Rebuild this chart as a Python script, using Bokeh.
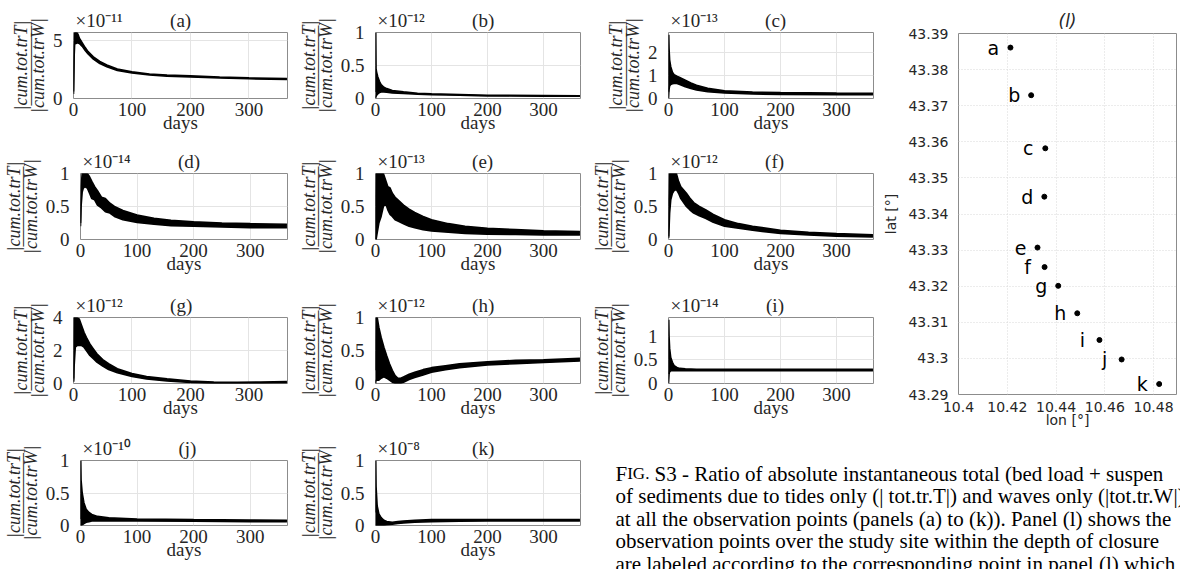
import numpy as np
from bokeh.plotting import figure
from bokeh.models import FixedTicker, Range1d
from bokeh.layouts import row, column
from bokeh.core.properties import value
from bokeh.embed import file_html
from bokeh.resources import INLINE

# ---------------- data ----------------
XMAX = 366
day_ticks = [0, 100, 200, 300]

a_days = [0, 1, 2, 4, 6, 8, 10, 15, 20, 25, 34, 45, 57, 75, 100, 130, 160, 200, 250, 300, 365]
a_upper = [0.6, 4.5, 5.7, 5.75, 5.7, 5.5, 5.2, 4.8, 4.4, 4.05, 3.6, 3.2, 2.9, 2.55, 2.3, 2.12, 2.02, 1.95, 1.85, 1.78, 1.72]
a_lower = [0.4, 3.5, 4.7, 4.75, 4.8, 4.8, 4.75, 4.5, 4.15, 3.85, 3.4, 3.02, 2.75, 2.42, 2.2, 2.03, 1.93, 1.86, 1.77, 1.7, 1.64]

b_days = [0, 0.5, 1, 2, 4, 7, 10, 15, 20, 30, 50, 75, 100, 150, 200, 300, 365]
b_upper = [0.1, 1.0, 0.45, 0.4, 0.33, 0.26, 0.21, 0.17, 0.15, 0.12, 0.1, 0.08, 0.07, 0.06, 0.05, 0.045, 0.04]
b_lower = [0.0, 0.02, 0.03, 0.05, 0.07, 0.09, 0.1, 0.1, 0.095, 0.085, 0.075, 0.065, 0.058, 0.05, 0.04, 0.035, 0.033]

c_days = [0, 0.5, 1, 2, 4, 7, 10, 15, 20, 30, 40, 50, 70, 100, 150, 200, 300, 365]
c_upper = [0.3, 2.8, 2.2, 1.7, 1.4, 1.15, 1.05, 0.98, 0.92, 0.8, 0.68, 0.58, 0.45, 0.34, 0.28, 0.26, 0.24, 0.23]
c_lower = [0.0, 0.25, 0.4, 0.55, 0.62, 0.65, 0.66, 0.66, 0.62, 0.52, 0.44, 0.38, 0.3, 0.24, 0.2, 0.18, 0.17, 0.17]

d_days = [0, 1, 3, 5, 8, 12, 16, 20, 25, 30, 37, 44, 52, 60, 75, 100, 130, 160, 200, 250, 300, 365]
d_upper = [0.25, 0.8, 1.0, 1.0, 1.0, 1.0, 0.95, 0.88, 0.8, 0.74, 0.64, 0.62, 0.55, 0.5, 0.44, 0.37, 0.32, 0.29, 0.27, 0.25, 0.24, 0.23]
d_lower = [0.2, 0.5, 0.72, 0.78, 0.8, 0.78, 0.7, 0.62, 0.6, 0.52, 0.48, 0.42, 0.4, 0.35, 0.3, 0.26, 0.23, 0.21, 0.2, 0.19, 0.18, 0.18]

e_days = [0, 0.5, 1, 3, 6, 10, 14, 18, 22, 26, 30, 35, 40, 50, 60, 70, 85, 100, 130, 160, 200, 250, 300, 365]
e_upper = [0.0, 0.6, 1.0, 1.0, 1.0, 1.0, 1.0, 0.9, 0.8, 0.78, 0.7, 0.64, 0.6, 0.52, 0.46, 0.41, 0.35, 0.3, 0.24, 0.2, 0.17, 0.15, 0.13, 0.12]
e_lower = [0.0, 0.0, 0.0, 0.1, 0.25, 0.35, 0.5, 0.55, 0.45, 0.38, 0.35, 0.3, 0.28, 0.24, 0.2, 0.18, 0.15, 0.13, 0.11, 0.09, 0.08, 0.075, 0.07, 0.07]

f_days = [0, 0.5, 2, 4, 7, 10, 14, 18, 22, 27, 32, 38, 45, 55, 66, 80, 100, 125, 150, 200, 250, 300, 365]
f_upper = [0.05, 0.6, 1.0, 1.0, 1.0, 1.0, 1.0, 0.88, 0.8, 0.75, 0.7, 0.63, 0.56, 0.5, 0.45, 0.38, 0.3, 0.24, 0.2, 0.14, 0.11, 0.09, 0.07]
f_lower = [0.02, 0.05, 0.4, 0.6, 0.7, 0.74, 0.76, 0.7, 0.62, 0.56, 0.5, 0.45, 0.4, 0.36, 0.32, 0.26, 0.2, 0.17, 0.14, 0.09, 0.07, 0.05, 0.04]

g_days = [0, 0.5, 1, 3, 6, 10, 14, 18, 22, 28, 34, 40, 50, 60, 75, 100, 125, 160, 200, 240, 280, 320, 365]
g_upper = [0.3, 2.5, 4.0, 4.0, 4.0, 3.9, 3.5, 3.1, 2.8, 2.4, 2.1, 1.8, 1.45, 1.2, 0.9, 0.6, 0.42, 0.28, 0.15, 0.09, 0.08, 0.09, 0.12]
g_lower = [0.1, 0.2, 1.0, 2.2, 2.3, 2.3, 2.3, 2.2, 2.0, 1.7, 1.5, 1.3, 1.05, 0.85, 0.65, 0.42, 0.28, 0.15, 0.06, 0.0, 0.0, 0.02, 0.04]

h_days = [0, 1, 3, 6, 10, 15, 20, 25, 30, 35, 40, 45, 50, 60, 70, 85, 100, 125, 150, 200, 250, 300, 365]
h_upper = [0.2, 1.0, 1.0, 0.85, 0.7, 0.55, 0.42, 0.3, 0.2, 0.12, 0.08, 0.08, 0.1, 0.14, 0.17, 0.21, 0.24, 0.27, 0.3, 0.33, 0.35, 0.36, 0.38]
h_lower = [0.0, 0.05, 0.05, 0.05, 0.08, 0.1, 0.08, 0.05, 0.02, 0.0, 0.0, 0.0, 0.02, 0.06, 0.09, 0.13, 0.17, 0.21, 0.24, 0.28, 0.3, 0.32, 0.34]

i_days = [0, 0.5, 1, 2, 4, 7, 10, 15, 20, 30, 50, 100, 200, 300, 365]
i_upper = [0.2, 1.35, 1.0, 0.75, 0.55, 0.45, 0.38, 0.34, 0.32, 0.31, 0.3, 0.3, 0.3, 0.3, 0.3]
i_lower = [0.0, 0.1, 0.2, 0.25, 0.27, 0.27, 0.27, 0.27, 0.27, 0.27, 0.27, 0.27, 0.27, 0.27, 0.27]

j_days = [0, 0.5, 1, 3, 6, 10, 15, 20, 30, 50, 100, 200, 300, 365]
j_upper = [0.1, 1.0, 0.7, 0.5, 0.35, 0.25, 0.2, 0.17, 0.14, 0.12, 0.1, 0.09, 0.085, 0.08]
j_lower = [0.0, 0.0, 0.0, 0.01, 0.03, 0.05, 0.06, 0.07, 0.07, 0.07, 0.07, 0.065, 0.06, 0.06]

k_days = [0, 0.5, 1, 3, 6, 10, 15, 20, 30, 40, 50, 70, 100, 150, 200, 300, 365]
k_upper = [0.2, 1.0, 0.6, 0.3, 0.18, 0.12, 0.08, 0.06, 0.05, 0.06, 0.07, 0.08, 0.09, 0.09, 0.09, 0.09, 0.09]
k_lower = [0.0, 0.0, 0.0, 0.0, 0.0, 0.0, 0.0, 0.01, 0.02, 0.03, 0.04, 0.05, 0.06, 0.065, 0.07, 0.07, 0.07]

panel_names = ["a", "b", "c", "d", "e", "f", "g", "h", "i", "j", "k"]
panel_exponents = ["\u207b\u00b9\u00b9", "\u207b\u00b9\u00b2", "\u207b\u00b9\u00b3", "\u207b\u00b9\u2074",
                   "\u207b\u00b9\u00b3", "\u207b\u00b9\u00b2", "\u207b\u00b9\u00b2", "\u207b\u00b9\u00b2",
                   "\u207b\u00b9\u2074", "\u207b\u00b9\u2070", "\u207b\u2078"]
panel_ymax = [5.7, 1.0, 2.9, 1.0, 1.0, 1.0, 4.0, 1.0, 1.4, 1.0, 1.0]
panel_yticks = [[0, 5], [0, 0.5, 1], [0, 1, 2], [0, 0.5, 1], [0, 0.5, 1], [0, 0.5, 1],
                [0, 2, 4], [0, 0.5, 1], [0, 0.5, 1], [0, 0.5, 1], [0, 0.5, 1]]
panel_series = [(a_days, a_upper, a_lower), (b_days, b_upper, b_lower), (c_days, c_upper, c_lower),
                (d_days, d_upper, d_lower), (e_days, e_upper, e_lower), (f_days, f_upper, f_lower),
                (g_days, g_upper, g_lower), (h_days, h_upper, h_lower), (i_days, i_upper, i_lower),
                (j_days, j_upper, j_lower), (k_days, k_upper, k_lower)]

pt_labels = ["a", "b", "c", "d", "e", "f", "g", "h", "i", "j", "k"]
pt_lon = [10.4213, 10.4298, 10.4356, 10.4352, 10.4324, 10.4353, 10.4409, 10.4487, 10.4578, 10.4669, 10.4823]
pt_lat = [43.3861, 43.3729, 43.3582, 43.3448, 43.3307, 43.3253, 43.3201, 43.3125, 43.3051, 43.2997, 43.2929]
lon_ticks = [10.4, 10.42, 10.44, 10.46, 10.48]
lat_ticks = [43.29, 43.3, 43.31, 43.32, 43.33, 43.34, 43.35, 43.36, 43.37, 43.38, 43.39]

caption_lines = [
    "of sediments due to tides only (| tot.tr.T|) and waves only (|tot.tr.W|)",
    "at all the observation points (panels (a) to (k)). Panel (l) shows the",
    "observation points over the study site within the depth of closure",
    "are labeled according to the corresponding point in panel (l) which",
]
caption_first = "S3 - Ratio of absolute instantaneous total (bed load + suspen"

y_label = "|cum.tot.trT|\n\u2014\u2014\u2014\u2014\u2014\n|cum.tot.trW|"

# ---------------- styling ----------------
SERIF = "Liberation Serif"
SANS = "DejaVu Sans"
TXT = "#262626"
FRAME = "#8c8c8c"
GRID = "#e4e4e4"
NBSP = "\u00a0"

# layout geometry (borders/frames in px)
col_geom = [(73, 214, 8), (71, 214, 8), (70, 215, 7)]
row_geom = [(32, 66, 45), (30, 66, 45), (33, 66, 47), (30, 65, 44)]


def fmt(t):
    return ("%g" % t)


def make_panel(idx, col, rw):
    name = panel_names[idx]
    ymax = panel_ymax[idx]
    yt = panel_yticks[idx]
    days, up, lo = panel_series[idx]
    bl, fw, br = col_geom[col]
    bt, fh, bb = row_geom[rw]
    # exponent at left, panel letter centred: one title line padded with no-break spaces
    exp_w = 2 + 29.7 + 6.0 * len(panel_exponents[idx])
    letter_w = 21.5
    pad = max(1, int(round((fw / 2 - letter_w / 2 - exp_w) / 4.75)))
    ttl = "\u00d710" + panel_exponents[idx] + NBSP * pad + "(%s)" % name
    p = figure(width=bl + fw + br, height=bt + fh + bb, title=ttl,
               x_range=Range1d(0, XMAX), y_range=Range1d(0, ymax),
               min_border_left=bl, min_border_right=br, min_border_top=bt, min_border_bottom=bb,
               output_backend="svg", toolbar_location=None)
    p.title.align = "left"
    p.title.offset = 2
    p.title.standoff = 3
    p.title.text_font = SERIF
    p.title.text_font_size = "19px"
    p.title.text_font_style = "normal"
    p.title.text_color = TXT
    p.outline_line_color = FRAME
    p.outline_line_width = 1
    p.background_fill_color = "white"
    p.border_fill_color = "white"
    for ax in (p.xaxis[0], p.yaxis[0]):
        ax.axis_line_color = None
        ax.major_tick_line_color = None
        ax.minor_tick_line_color = None
        ax.major_label_text_font = SERIF
        ax.major_label_text_font_size = "19px"
        ax.major_label_text_color = TXT
        ax.axis_label_text_color = TXT
        ax.axis_label_text_font = SERIF
    p.xaxis.ticker = FixedTicker(ticks=day_ticks)
    p.xaxis.major_label_standoff = -2
    p.xaxis.axis_label = "days"
    p.xaxis.axis_label_text_font_size = "19px"
    p.xaxis.axis_label_text_font_style = "normal"
    p.xaxis.axis_label_standoff = -7
    p.yaxis.ticker = FixedTicker(ticks=yt)
    p.yaxis.major_label_overrides = {t: fmt(t) for t in yt}
    p.yaxis.major_label_standoff = 5
    p.yaxis.axis_label = y_label
    p.yaxis.axis_label_text_font_size = "18px"
    p.yaxis.axis_label_text_font_style = "italic"
    p.yaxis.axis_label_text_line_height = 0.42
    p.yaxis.axis_label_standoff = 2
    p.grid.grid_line_color = GRID
    p.grid.grid_line_width = 1

    p.varea(x=days, y1=lo, y2=up, color="black")
    p.line(days, up, color="black", line_width=1.6)
    p.line(days, lo, color="black", line_width=1.6)
    return p


figs = [make_panel(i, i % 3, i // 3) for i in range(11)]

# ---------------- panel (l) ----------------
LX0, LX1, LY0, LY1 = 10.4, 10.4894, 43.29, 43.39
pl = figure(width=300, height=430, x_range=Range1d(LX0, LX1), y_range=Range1d(LY0, LY1),
            title="(l)",
            min_border_left=78, min_border_right=4, min_border_top=33, min_border_bottom=36,
            output_backend="svg", toolbar_location=None)
pl.title.align = "center"
pl.title.standoff = 5
pl.title.text_font = SANS
pl.title.text_font_size = "17px"
pl.title.text_font_style = "italic"
pl.title.text_color = TXT
pl.outline_line_color = FRAME
pl.background_fill_color = "white"
for ax in (pl.xaxis[0], pl.yaxis[0]):
    ax.axis_line_color = None
    ax.major_tick_line_color = None
    ax.minor_tick_line_color = None
    ax.major_label_text_font = SANS
    ax.major_label_text_font_size = "14px"
    ax.major_label_text_color = TXT
    ax.axis_label_text_font = SANS
    ax.axis_label_text_font_size = "14px"
    ax.axis_label_text_font_style = "normal"
    ax.axis_label_text_color = TXT
pl.xaxis.ticker = FixedTicker(ticks=lon_ticks)
pl.xaxis.major_label_overrides = {t: fmt(t) for t in lon_ticks}
pl.xaxis.major_label_standoff = 1
pl.xaxis.axis_label = "lon [\u00b0]"
pl.xaxis.axis_label_standoff = -3
pl.yaxis.ticker = FixedTicker(ticks=lat_ticks)
pl.yaxis.major_label_overrides = {t: fmt(t) for t in lat_ticks}
pl.yaxis.major_label_standoff = 4
pl.yaxis.axis_label = "lat [\u00b0]"
pl.yaxis.axis_label_standoff = 6
pl.grid.grid_line_color = "#d9d9d9"
pl.grid.grid_line_dash = "1 2"

pl.scatter(pt_lon, pt_lat, size=5, color="black")
pl.text(pt_lon, pt_lat, text=pt_labels, x_offset=-17, text_align="center", text_baseline="middle",
        text_font=value(SANS), text_font_size="19px", text_color="black")

# ---------------- caption ----------------
cw, ch = 592, 139
pc = figure(width=cw, height=ch, x_range=Range1d(0, cw), y_range=Range1d(0, ch), title=None,
            min_border=0, x_axis_type=None, y_axis_type=None,
            output_backend="svg", toolbar_location=None)
pc.outline_line_color = None
pc.grid.visible = False
base0 = 96  # baseline of first line, from the bottom
lh = 22.5
pc.text(x=[27], y=[base0], text=["F"], text_font=value(SERIF), text_font_size="21px",
        text_color="black", text_baseline="alphabetic")
pc.text(x=[38.7], y=[base0], text=["IG."], text_font=value(SERIF), text_font_size="17px",
        text_color="black", text_baseline="alphabetic")
pc.text(x=[66], y=[base0], text=[caption_first], text_font=value(SERIF), text_font_size="21px",
        text_color="black", text_baseline="alphabetic")
pc.text(x=[27] * len(caption_lines), y=[base0 - lh * (i + 1) for i in range(len(caption_lines))],
        text=caption_lines, text_font=value(SERIF), text_font_size="21px",
        text_color="black", text_baseline="alphabetic")

col_a = column(row(figs[0], figs[1]), row(figs[3], figs[4]),
               row(figs[6], figs[7]), row(figs[9], figs[10]))
col_b = column(row(column(figs[2], figs[5], figs[8]), pl), pc)
page = row(col_a, col_b)

open("out.html", "w").write(file_html(page, INLINE))
